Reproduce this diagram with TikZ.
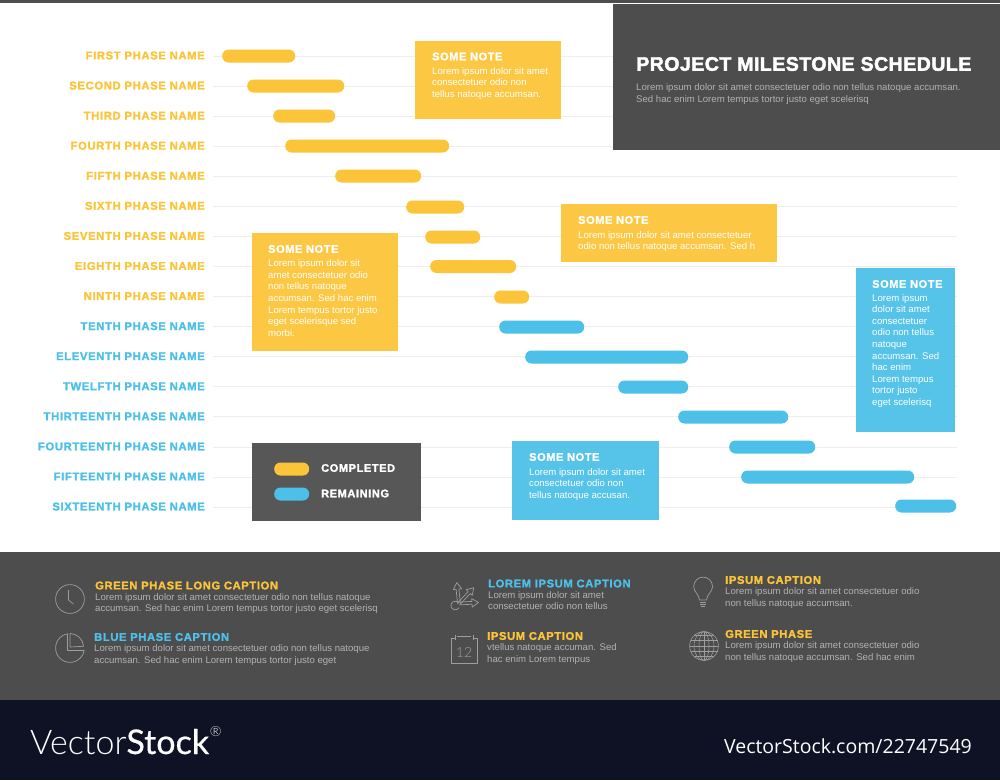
\documentclass[tikz,border=0pt]{standalone}
\usepackage{fontspec}
\setmainfont{Liberation Sans}
\newfontfamily\headf[BoldFeatures={FakeBold=1.7,LetterSpace=5.5}]{Liberation Sans}
\newfontfamily\titlef[BoldFeatures={FakeBold=2.2,LetterSpace=2.2}]{Liberation Sans}
\newfontfamily\logothin[UprightFont=* Light]{Lato}
\newfontfamily\logobold[FakeBold=.6]{Lato}
\newfontfamily\urlf{Open Sans}
\definecolor{yel}{HTML}{FCC438}
\definecolor{blu}{HTML}{4CC0E8}
\definecolor{panel}{HTML}{4D4D4D}
\definecolor{foot}{HTML}{0F1124}
\definecolor{gridc}{HTML}{EEEEEE}
\definecolor{bodyc}{HTML}{B2B2B2}
\definecolor{iconc}{HTML}{9E9E9E}
\tikzset{
  x=1pt,y=-1pt,
  lab/.style={anchor=east,inner sep=0pt,font=\headf\bfseries\fontsize{11.3}{12}\selectfont},
  pill/.style={anchor=west,inner sep=0pt,minimum height=13pt,rounded corners=6.3pt,fill=#1},
  notebox/.style={anchor=north west,inner sep=0pt,fill=#1,fill opacity=.94,text opacity=1},
  notehead/.style={anchor=west,inner sep=0pt,text=white,font=\headf\bfseries\fontsize{11}{12}\selectfont},
  notetext/.style={anchor=north west,inner sep=0pt,align=left,text=white,font=\fontsize{9.6}{11.6}\selectfont},
  caphead/.style={anchor=west,inner sep=0pt,text=#1,font=\headf\bfseries\fontsize{11.2}{12}\selectfont},
  captext/.style={anchor=north west,inner sep=0pt,align=left,text=bodyc,font=\fontsize{9.6}{11.6}\selectfont},
  icon/.style={draw=iconc,line width=.7pt,line join=round},
}
\newcommand{\NoteBox}[6]{% name x1 y1 x2 y2 colour
  \node[notebox=#6,minimum width=#4pt-#2pt,minimum height=#5pt-#3pt] (#1) at (#2,#3) {};}
\newcommand{\TaskBar}[5]{% name x1 x2 y colour
  \node[pill=#5,minimum width=#3pt-#2pt] (#1) at (#2,#4) {};}
\begin{document}
\begin{tikzpicture}
\useasboundingbox[fill=white] (0,0) rectangle (1000,780);
% top strip
\fill[panel] (0,0) rectangle (1000,3);
% grid lines and row labels
\foreach \n/\t/\c [count=\i from 0] in {
 a/FIRST PHASE NAME/yel,b/SECOND PHASE NAME/yel,c/THIRD PHASE NAME/yel,d/FOURTH PHASE NAME/yel,
 e/FIFTH PHASE NAME/yel,f/SIXTH PHASE NAME/yel,g/SEVENTH PHASE NAME/yel,h/EIGHTH PHASE NAME/yel,
 i/NINTH PHASE NAME/yel,j/TENTH PHASE NAME/blu,k/ELEVENTH PHASE NAME/blu,l/TWELFTH PHASE NAME/blu,
 m/THIRTEENTH PHASE NAME/blu,n/FOURTEENTH PHASE NAME/blu,o/FIFTEENTH PHASE NAME/blu,p/SIXTEENTH PHASE NAME/blu}{
  \pgfmathsetmacro{\yy}{56+30.07*\i}
  \draw[gridc,line width=.8pt] (213,\yy) -- (957,\yy);
  \node[lab,text=\c] (lab\n) at (205,\yy-.5) {\t};
}
% bars
\TaskBar{b1}{222}{295}{56}{yel}
\TaskBar{b2}{247}{344}{86}{yel}
\TaskBar{b3}{273}{335}{116}{yel}
\TaskBar{b4}{285}{449}{146}{yel}
\TaskBar{b5}{335}{421}{176}{yel}
\TaskBar{b6}{406}{464}{207}{yel}
\TaskBar{b7}{425}{480}{237}{yel}
\TaskBar{b8}{430}{516}{266.5}{yel}
\TaskBar{b9}{494}{529}{297}{yel}
\TaskBar{b10}{499}{584}{327}{blu}
\TaskBar{b11}{525}{688}{357}{blu}
\TaskBar{b12}{618}{688}{387}{blu}
\TaskBar{b13}{678}{788}{417}{blu}
\TaskBar{b14}{729}{815}{447}{blu}
\TaskBar{b15}{741}{914}{477}{blu}
\TaskBar{b16}{895}{956}{506}{blu}
% title panel
\node[anchor=north west,inner sep=0pt,fill=panel,minimum width=387pt,minimum height=146pt] (titlebox) at (613,4) {};
\node[anchor=west,inner sep=0pt,text=white,font=\titlef\bfseries\fontsize{19.6}{22}\selectfont] (title) at (636,64) {PROJECT MILESTONE SCHEDULE};
\node[captext] (titletext) at (636,83.5) {Lorem ipsum dolor sit amet consectetuer odio non tellus natoque accumsan.\\Sed hac enim Lorem tempus tortor justo eget scelerisq};
% notes
\NoteBox{na}{415}{41}{561}{119}{yel}
\node[notehead] (nah) at (432,56.5) {SOME NOTE};
\node[notetext] (nat) at (432,67) {Lorem ipsum dolor sit amet\\consectetuer odio non\\tellus natoque accumsan.};
\NoteBox{nb}{561}{204}{777}{262}{yel}
\node[notehead] (nbh) at (578,220) {SOME NOTE};
\node[notetext] (nbt) at (578,231) {Lorem ipsum dolor sit amet consectetuer\\odio non tellus natoque accumsan. Sed h};
\NoteBox{nc}{252}{233}{398}{351}{yel}
\node[notehead] (nch) at (268,249) {SOME NOTE};
\node[notetext] (nct) at (268,259.5) {Lorem ipsum dolor sit\\amet consectetuer odio\\non tellus natoque\\accumsan. Sed hac enim\\Lorem tempus tortor justo\\eget scelerisque sed\\morbi.};
\NoteBox{nd}{856}{268}{955}{432}{blu}
\node[notehead] (ndh) at (872,284) {SOME NOTE};
\node[notetext] (ndt) at (872,294) {Lorem ipsum\\dolor sit amet\\consectetuer\\odio non tellus\\natoque\\accumsan. Sed\\hac enim\\Lorem tempus\\tortor justo\\eget scelerisq};
\NoteBox{ne}{512}{441}{659}{520}{blu}
\node[notehead] (neh) at (529,457) {SOME NOTE};
\node[notetext] (net) at (529,468) {Lorem ipsum dolor sit amet\\consectetuer odio non\\tellus natoque accusan.};
% legend
\NoteBox{leg}{252}{443}{421}{521}{panel}
\node[pill=yel,minimum width=35pt] (legy) at (274,469) {};
\node[pill=blu,minimum width=35pt] (legb) at (274,494) {};
\node[notehead] (legyt) at (321,468) {COMPLETED};
\node[notehead] (legbt) at (321,493.5) {REMAINING};
% bottom panels
\fill[panel] (0,552) rectangle (1000,700);
\fill[foot] (0,700) rectangle (1000,780);
% captions
\node[caphead=yel] (c1h) at (95,585.5) {GREEN PHASE LONG CAPTION};
\node[captext] (c1t) at (95,593) {Lorem ipsum dolor sit amet consectetuer odio non tellus natoque\\accumsan. Sed hac enim Lorem tempus tortor justo eget scelerisq};
\node[caphead=blu] (c2h) at (94,637) {BLUE PHASE CAPTION};
\node[captext] (c2t) at (94,644.5) {Lorem ipsum dolor sit amet consectetuer odio non tellus natoque\\accumsan. Sed hac enim Lorem tempus tortor justo eget};
\node[caphead=blu] (c3h) at (488,583.5) {LOREM IPSUM CAPTION};
\node[captext] (c3t) at (488,591) {Lorem ipsum dolor sit amet\\consectetuer odio non tellus};
\node[caphead=yel] (c4h) at (487,636) {IPSUM CAPTION};
\node[captext] (c4t) at (487,643.5) {vtellus natoque accuman. Sed\\hac enim Lorem tempus};
\node[caphead=yel] (c5h) at (725,580) {IPSUM CAPTION};
\node[captext] (c5t) at (725,587.5) {Lorem ipsum dolor sit amet consectetuer odio\\non tellus natoque accumsan.};
\node[caphead=yel] (c6h) at (725,634) {GREEN PHASE};
\node[captext] (c6t) at (725,641.5) {Lorem ipsum dolor sit amet consectetuer odio\\non tellus natoque accumsan. Sed hac enim};
% clock icon
\draw[icon] (70,599) circle[radius=14.4];
\draw[icon] (68.5,590) -- (68.5,600) -- (73.5,604);
% pie icon
\draw[icon] (67.5,650.5) -- (67.5,633.8) arc[start angle=-100,end angle=-350,radius=14.4] -- cycle;
\draw[icon] (70,647) -- (70,633.5) arc[start angle=-90,end angle=-3,radius=13.5] -- cycle;
% arrows icon
\foreach \r/\l in {96/14.5,47/15,3/13}{
  \begin{scope}[shift={(459,603.5)},rotate=\r]
    \draw[icon] (0,-1.4) -- (\l,-1.4) -- (\l,-4.2) -- (\l+6.5,0) -- (\l,4.2) -- (\l,1.4) -- (0,1.4);
  \end{scope}
}
\draw[icon] (459,603.3) arc[start angle=-30,end angle=-330,radius=4.4];
% calendar icon
\draw[icon] (455,638) -- (451,638) -- (451,663) -- (477,663) -- (477,638) -- (473,638);
\draw[icon] (455,635) -- (455,640) (473,635) -- (473,640) (457,636.7) -- (471,636.7);
\node[inner sep=0pt,text=iconc,font=\logothin\fontsize{14}{14}\selectfont] (cal12) at (464,652) {12};
% bulb icon
\draw[icon] (699.5,600) .. controls (699,594) and (693.7,592) .. (693.7,586.5) arc[start angle=180,end angle=360,radius=9.4] .. controls (712.5,592) and (707,594) .. (706.5,600) -- cycle;
\draw[icon] (699.8,602) -- (706.2,602) (700.2,604) -- (705.8,604) (701,606) -- (705,606);
% globe icon
\draw[icon,line width=.55pt] (704,646) circle[radius=14.4];
\draw[icon,line width=.55pt] (704,646) ellipse[x radius=5,y radius=14.4];
\draw[icon,line width=.55pt] (704,646) ellipse[x radius=10,y radius=14.4];
\draw[icon,line width=.55pt] (704,631.6) -- (704,660.4);
\draw[icon,line width=.55pt] (689.6,646) -- (718.4,646) (690.5,640.5) -- (717.5,640.5) (690.5,651.5) -- (717.5,651.5) (694,635.5) -- (714,635.5) (694,656.5) -- (714,656.5);
% footer
\node[anchor=base west,inner sep=0pt,text=white,font=\logothin\fontsize{34}{36}\selectfont] (logo) at (30,754) {Vector{\logobold Stock}};
\node[anchor=center,inner sep=0pt,text=white,font=\logothin\fontsize{14}{14}\selectfont] (logor) at (215.7,732) {®};
\node[anchor=base east,inner sep=0pt,text=white,font=\urlf\fontsize{19.5}{22}\selectfont] (url) at (972,753) {VectorStock.com/22747549};
\end{tikzpicture}
\end{document}
